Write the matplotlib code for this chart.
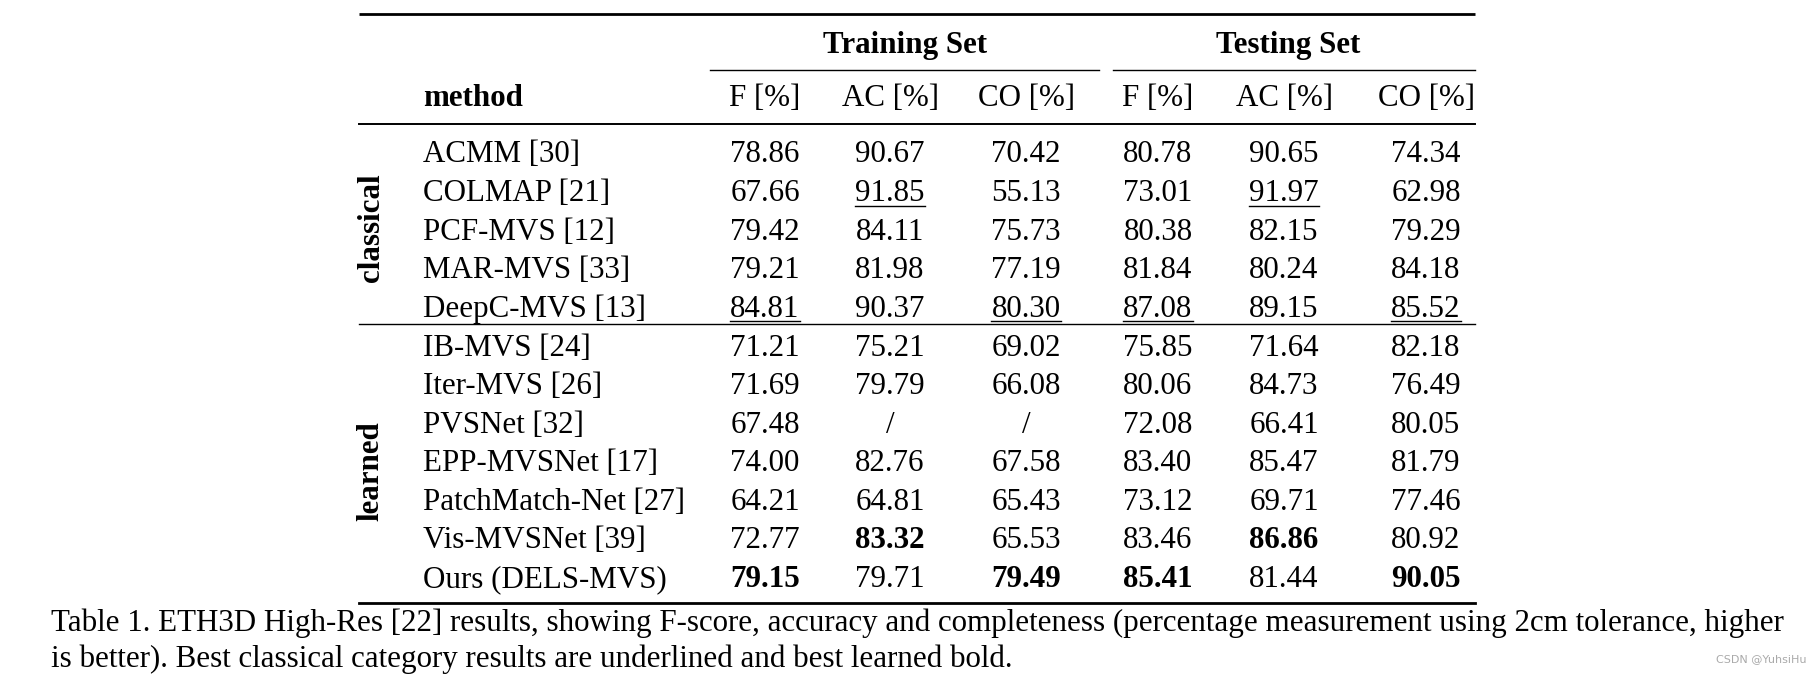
import numpy as np
import matplotlib.pyplot as plt

plt.rcParams['font.family'] = ['Liberation Serif', 'DejaVu Serif']

# table data
methods = ['ACMM [30]', 'COLMAP [21]', 'PCF-MVS [12]', 'MAR-MVS [33]', 'DeepC-MVS [13]',
           'IB-MVS [24]', 'Iter-MVS [26]', 'PVSNet [32]', 'EPP-MVSNet [17]',
           'PatchMatch-Net [27]', 'Vis-MVSNet [39]', 'Ours (DELS-MVS)']
groups = ['classical', 'learned']
group_sizes = [5, 7]
col_labels = ['F [%]', 'AC [%]', 'CO [%]', 'F [%]', 'AC [%]', 'CO [%]']
set_labels = ['Training Set', 'Testing Set']
nan = np.nan
train_f  = [78.86, 67.66, 79.42, 79.21, 84.81, 71.21, 71.69, 67.48, 74.00, 64.21, 72.77, 79.15]
train_ac = [90.67, 91.85, 84.11, 81.98, 90.37, 75.21, 79.79, nan, 82.76, 64.81, 83.32, 79.71]
train_co = [70.42, 55.13, 75.73, 77.19, 80.30, 69.02, 66.08, nan, 67.58, 65.43, 65.53, 79.49]
test_f   = [80.78, 73.01, 80.38, 81.84, 87.08, 75.85, 80.06, 72.08, 83.40, 73.12, 83.46, 85.41]
test_ac  = [90.65, 91.97, 82.15, 80.24, 89.15, 71.64, 84.73, 66.41, 85.47, 69.71, 86.86, 81.44]
test_co  = [74.34, 62.98, 79.29, 84.18, 85.52, 82.18, 76.49, 80.05, 81.79, 77.46, 80.92, 90.05]
caption = ["Table 1. ETH3D High-Res [22] results, showing F-score, accuracy and completeness "
           "(percentage measurement using 2cm tolerance, higher",
           "is better). Best classical category results are underlined and best learned bold."]

cols = np.array([train_f, train_ac, train_co, test_f, test_ac, test_co]).T

W, H = 1818, 674
fig = plt.figure(figsize=(W / 100, H / 100), dpi=100)
ax = fig.add_axes([0, 0, 1, 1])
ax.set_xlim(0, W)
ax.set_ylim(H, 0)
ax.axis('off')

fs = 22.3
dy = 3  # text sits a bit lower than its box centre
x0, x1 = 359, 1475
col_x = [765, 890, 1026, 1158, 1284, 1426]
row_y0, row_dy = 152, 38.6
name_x = 423

# rules
ax.plot([x0, x1], [14, 14], color='k', lw=2.0, solid_capstyle='butt')
ax.plot([710, 1099], [70, 70], color='k', lw=1.0)
ax.plot([1113, x1], [70, 70], color='k', lw=1.0)
ax.plot([x0, x1], [124, 124], color='k', lw=1.4)
ax.plot([x0, x1], [603, 603], color='k', lw=2.0)

# headers
for lab, cx in zip(set_labels, [905, 1288]):
    ax.text(cx, 42 + dy, lab, ha='center', va='center', fontsize=fs, fontweight='bold')
ax.text(name_x, 96 + dy, 'method', ha='left', va='center', fontsize=fs, fontweight='bold')
for lab, cx in zip(col_labels, col_x):
    ax.text(cx, 96 + dy, lab, ha='center', va='center', fontsize=fs)

# body
start = 0
underline = []
for g, n in zip(groups, group_sizes):
    block = cols[start:start + n]
    best = np.nanargmax(block, axis=0) + start
    for i in range(start, start + n):
        y = row_y0 + i * row_dy
        ax.text(name_x, y + dy, methods[i], ha='left', va='center', fontsize=fs)
        for j in range(6):
            v = cols[i, j]
            s = '/' if np.isnan(v) else f'{v:.2f}'
            is_best = best[j] == i
            bold = is_best and g == 'learned'
            t = ax.text(col_x[j], y + dy, s, ha='center', va='center', fontsize=fs,
                        fontweight='bold' if bold else 'normal')
            if is_best and g == 'classical':
                underline.append((t, y))
    yc = row_y0 + (start + (n - 1) / 2) * row_dy + (10 if g == 'learned' else -2)
    ax.text(371, yc, g, ha='center', va='center', rotation=90, fontsize=fs, fontweight='bold')
    start += n
    if start < len(methods):
        ysep = row_y0 + (start - 0.5) * row_dy - 2
        ax.plot([x0, x1], [ysep, ysep], color='k', lw=1.0)

fig.canvas.draw()
r = fig.canvas.get_renderer()
inv = ax.transData.inverted()
for t, y in underline:
    bb = t.get_window_extent(r)
    (xa, _), (xb, _) = inv.transform([[bb.x0, bb.y0], [bb.x1, bb.y1]])
    ax.plot([xa, xb], [y + 15, y + 15], color='k', lw=1.0)

# caption
ax.text(51, 623, caption[0], ha='left', va='center', fontsize=fs)
ax.text(51, 659, caption[1], ha='left', va='center', fontsize=fs)
ax.text(1806, 659, 'CSDN @YuhsiHu', ha='right', va='center', fontsize=8,
        color='#aaaaaa', family='DejaVu Sans')

fig.savefig('out.png', dpi=100, facecolor='white')
